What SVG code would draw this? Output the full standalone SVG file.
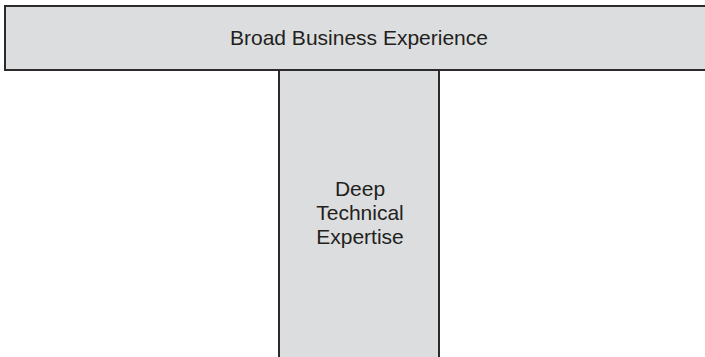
<svg xmlns="http://www.w3.org/2000/svg" width="705" height="357" viewBox="0 0 705 357">
  <style>
    .box { fill: #dcdddf; stroke: #2d2a2b; stroke-width: 2; }
    .label { font-family: "Liberation Sans", Arial, sans-serif; font-size: 21px; fill: #231f20; text-anchor: middle; }
  </style>
  <rect width="705" height="357" fill="#ffffff"/>
  <!-- vertical stem drawn first so the bar's bottom border overlaps it -->
  <g id="deep-technical-expertise">
    <rect class="box" x="279" y="60" width="160" height="310"/>
    <text class="label" x="360" y="196">Deep</text>
    <text class="label" x="360" y="219.5">Technical</text>
    <text class="label" x="360" y="243.5">Expertise</text>
  </g>
  <g id="broad-business-experience">
    <rect class="box" x="5" y="6" width="710" height="64"/>
    <text class="label" x="359" y="44.5">Broad Business Experience</text>
  </g>
  <g id="connectors"/>
</svg>
